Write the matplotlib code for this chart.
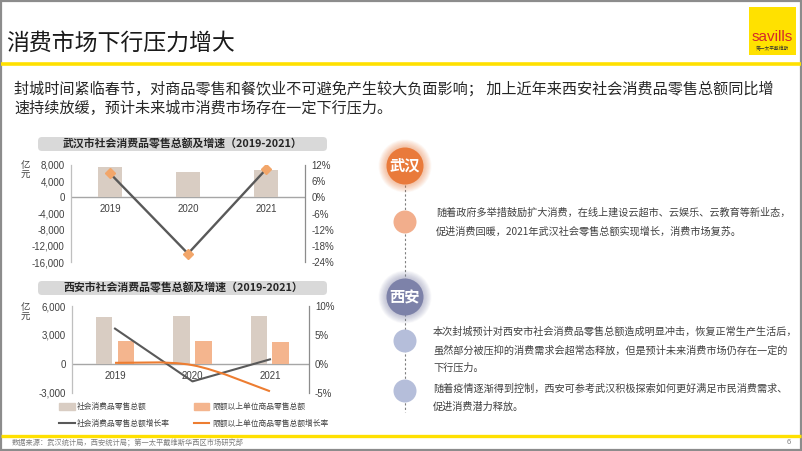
import matplotlib
matplotlib.use('Agg')
import matplotlib.pyplot as plt
from matplotlib.patches import Rectangle, Circle, FancyBboxPatch, Patch, PathPatch
from matplotlib.lines import Line2D
from matplotlib.path import Path
from matplotlib.font_manager import FontProperties
from matplotlib.ticker import FuncFormatter
import numpy as np

W, H = 802, 451
CJK = ['Noto Sans CJK SC', 'DejaVu Sans']
LAT = ['Liberation Sans', 'Noto Sans CJK SC', 'DejaVu Sans']

# ---------------- data ----------------
years = ['2019', '2020', '2021']
wh_sales = [7400, 6150, 6800]          # 亿元
wh_growth = [8.9, -20.9, 10.4]         # %
xa_sales = [4900, 4960, 4930]          # 亿元
xa_above = [2420, 2350, 2250]          # 亿元
xa_growth = [6.1, -3.0, 0.8]           # %
xa_above_growth = [0.2, -0.2, -4.7]    # %

wh_left_ticks = [8000, 4000, 0, -4000, -8000, -12000, -16000]
wh_right_ticks = [12, 6, 0, -6, -12, -18, -24]
xa_left_ticks = [6000, 3000, 0, -3000]
xa_right_ticks = [10, 5, 0, -5]

legend_labels = ['社会消费品零售总额', '社会消费品零售总额增长率',
                 '限额以上单位商品零售总额', '限额以上单位商品零售总额增长率']

BEIGE = '#D9CDC3'
ORANGE_BAR = '#F4B58E'
ORANGE_LINE = '#ED7D31'
GRAY_LINE = '#595959'
MARKER = '#F2A66A'
TICK_C = '#404040'
SPINE_C = '#A6A6A6'
YELLOW = '#FFE000'

fig = plt.figure(figsize=(8.02, 4.51), dpi=100)
fig.patch.set_facecolor('white')


def rect(x0, y0, x1, y1):
    return [x0 / W, 1 - y1 / H, (x1 - x0) / W, (y1 - y0) / H]


# background / decoration layer in pixel coordinates
bg = fig.add_axes([0, 0, 1, 1], zorder=0)
bg.set_xlim(0, W)
bg.set_ylim(H, 0)
bg.axis('off')

# border
bg.add_patch(Rectangle((0.8, 0.8), W - 1.6, H - 1.6, fill=False, ec='#8C8C8C', lw=1.6))
# yellow rules
bg.plot([1, W - 1], [64, 64], color=YELLOW, lw=2.6, solid_capstyle='butt')
bg.plot([1, W - 1], [435.5, 435.5], color=YELLOW, lw=2.4, solid_capstyle='butt')

# title
bg.text(6, 43, '消费市场下行压力增大', family=CJK, fontsize=16.5, color='#1a1a1a',
        va='center', ha='left')

# savills logo
bg.add_patch(Rectangle((749, 7), 47, 48, color='#FFE100', lw=0))
bg.text(772.5, 37, 'savills', family=['Liberation Sans'], fontsize=11, color='#D42A2A',
        ha='center', va='center')
bg.text(772.5, 49, '第一太平戴维斯', family=CJK, fontsize=3.4, color='#333333',
        ha='center', va='center')

# subtitle
bg.text(14, 89, '封城时间紧临春节，对商品零售和餐饮业不可避免产生较大负面影响； 加上近年来西安社会消费品零售总额同比增',
        family=CJK, fontsize=10.9, color='#262626', va='center', ha='left')
bg.text(14, 108, '速持续放缓，预计未来城市消费市场存在一定下行压力。',
        family=CJK, fontsize=10.9, color='#262626', va='center', ha='left')

# chart title bars
for (y0, y1, t) in [(137, 151, '武汉市社会消费品零售总额及增速（2019-2021）'),
                    (281, 295, '西安市社会消费品零售总额及增速（2019-2021）')]:
    bg.add_patch(FancyBboxPatch((38, y0), 289, y1 - y0,
                                boxstyle='round,pad=0,rounding_size=4',
                                fc='#D9D9D9', ec='none'))
    bg.text(183, (y0 + y1) / 2 + 0.3, t, family=CJK, fontsize=7.8, fontweight='bold',
            color='#262626', ha='center', va='center')

# unit labels
for y in (170, 312):
    bg.text(25, y, '亿\n元', family=CJK, fontsize=6.8, color=TICK_C, ha='center',
            va='center', linespacing=1.05)

# footer
bg.text(12, 443, '数据来源：武汉统计局，西安统计局；第一太平戴维斯华西区市场研究部',
        family=CJK, fontsize=5.2, color='#7F7F7F', ha='left', va='center')
bg.text(789, 443, '6', family=LAT, fontsize=5.5, color='#7F7F7F', ha='center', va='center')

# right side: timeline
bg.plot([405, 405], [185, 412], color='#7F7F7F', lw=0.8, ls=(0, (2, 2)), zorder=1)


def glow_circle(cx, cy, r, color, glow):
    for k in range(12, 0, -1):
        bg.add_patch(Circle((cx, cy), r + k * glow / 12, color=color, alpha=0.045, lw=0, zorder=2))
    bg.add_patch(Circle((cx, cy), r, color=color, lw=0, zorder=3))


glow_circle(405, 166, 18.5, '#E97A3B', 8)
bg.text(405, 166, '武汉', family=CJK, fontsize=11, fontweight='bold', color='white',
        ha='center', va='center', zorder=4)
glow_circle(405, 297, 18.5, '#7D82A9', 8)
bg.text(405, 297, '西安', family=CJK, fontsize=11, fontweight='bold', color='white',
        ha='center', va='center', zorder=4)

bg.add_patch(Circle((405, 222), 11.5, color='#F2AE8C', lw=0, zorder=3))
bg.add_patch(Circle((405, 341), 11.5, color='#B5BEDA', lw=0, zorder=3))
bg.add_patch(Circle((405, 391), 11.5, color='#B5BEDA', lw=0, zorder=3))

TXT_C = '#404040'
rt = [
    (436, 213, '随着政府多举措鼓励扩大消费，在线上建设云超市、云娱乐、云教育等新业态，'),
    (436, 231, '促进消费回暖，2021年武汉社会零售总额实现增长，消费市场复苏。'),
    (433, 332, '本次封城预计对西安市社会消费品零售总额造成明显冲击，恢复正常生产生活后，'),
    (433, 350, '虽然部分被压抑的消费需求会超常态释放，但是预计未来消费市场仍存在一定的'),
    (433, 368, '下行压力。'),
    (433, 389, '随着疫情逐渐得到控制，西安可参考武汉积极探索如何更好满足市民消费需求、'),
    (433, 407, '促进消费潜力释放。'),
]
for x, y, t in rt:
    bg.text(x, y, t, family=CJK, fontsize=7.3, color=TXT_C, ha='left', va='center')

thousands = FuncFormatter(lambda v, p: f'{v:,.0f}')
pct = FuncFormatter(lambda v, p: f'{v:.0f}%')


def style_axes(ax, axr, left_ticks, right_ticks):
    ax.set_facecolor('none')
    for s in ('top', 'bottom', 'right'):
        ax.spines[s].set_visible(False)
    ax.spines['left'].set_color('#BFBFBF')
    ax.spines['left'].set_linewidth(0.9)
    ax.set_xticks([])
    ax.set_yticks(left_ticks)
    ax.yaxis.set_major_formatter(thousands)
    ax.tick_params(axis='y', length=0, labelsize=7, pad=4.5, colors=TICK_C)
    for lab in ax.get_yticklabels():
        lab.set_family(LAT)
    for s in ('top', 'bottom', 'left'):
        axr.spines[s].set_visible(False)
    axr.spines['right'].set_color('#8C8C8C')
    axr.spines['right'].set_linewidth(0.9)
    axr.set_yticks(right_ticks)
    axr.yaxis.set_major_formatter(pct)
    axr.tick_params(axis='y', length=0, labelsize=7, pad=4.5, colors=TICK_C)
    for lab in axr.get_yticklabels():
        lab.set_family(LAT)
    ax.axhline(0, color=SPINE_C, lw=1.0, zorder=1)


x = np.arange(len(years))

# ---------------- Wuhan chart ----------------
ax1 = fig.add_axes(rect(71, 165, 305, 262), zorder=2)
ax1.set_xlim(-0.5, 2.5)
ax1.set_ylim(-16000, 8000)
ax1.bar(x, wh_sales, width=0.315, color=BEIGE, zorder=2)
ax1r = ax1.twinx()
ax1r.set_ylim(-24, 12)
ax1r.plot(x, wh_growth, color=GRAY_LINE, lw=1.7, zorder=3)
ax1r.plot(x, wh_growth, ls='none', marker='D', ms=5.5, mfc=MARKER, mec=MARKER, zorder=4)
style_axes(ax1, ax1r, wh_left_ticks, wh_right_ticks)
for i, yr in enumerate(years):
    ax1.annotate(yr, (i, 0), xytext=(0, -5), textcoords='offset points', ha='center',
                 va='top', fontsize=7, color=TICK_C, family=LAT)

# ---------------- Xi'an chart ----------------
ax2 = fig.add_axes(rect(72.4, 306, 308.7, 393), zorder=2)
ax2.set_xlim(-0.55, 2.5)
ax2.set_ylim(-3000, 6000)
bw = 0.215
ax2.bar(x - 0.14, xa_sales, width=bw, color=BEIGE, zorder=2)
ax2.bar(x + 0.14, xa_above, width=bw, color=ORANGE_BAR, zorder=2)
ax2r = ax2.twinx()
ax2r.set_ylim(-5, 10)
ax2r.plot(x, xa_growth, color=GRAY_LINE, lw=1.5, zorder=3)


def smooth_path(xs, ys):
    P = np.column_stack([xs, ys]).astype(float)
    n = len(P)
    verts = [P[0]]
    codes = [Path.MOVETO]
    for i in range(n - 1):
        p_prev = P[i - 1] if i > 0 else P[i]
        p_next2 = P[i + 2] if i + 2 < n else P[i + 1]
        c1 = P[i] + (P[i + 1] - p_prev) / 6
        c2 = P[i + 1] - (p_next2 - P[i]) / 6
        verts += [c1, c2, P[i + 1]]
        codes += [Path.CURVE4] * 3
    return Path(verts, codes)


ax2r.add_patch(PathPatch(smooth_path(x, xa_above_growth), fc='none', ec=ORANGE_LINE,
                         lw=1.5, zorder=3))
style_axes(ax2, ax2r, xa_left_ticks, xa_right_ticks)
for i, yr in enumerate(years):
    ax2.annotate(yr, (i, 0), xytext=(0, -5), textcoords='offset points', ha='center',
                 va='top', fontsize=7, color=TICK_C, family=LAT)

handles = [Patch(color=BEIGE), Line2D([], [], color=GRAY_LINE, lw=1.5),
           Patch(color=ORANGE_BAR), Line2D([], [], color=ORANGE_LINE, lw=1.5)]
fig.legend(handles, legend_labels, ncol=2, loc='upper left',
           bbox_to_anchor=(59 / W, 1 - 403 / H), frameon=False,
           prop=FontProperties(family=CJK, size=5.6), handlelength=2.0,
           handleheight=1.0, handletextpad=0.35, columnspacing=3.0,
           labelspacing=1.1, borderpad=0, borderaxespad=0, labelcolor=TICK_C)

fig.savefig('out.png', dpi=100)
